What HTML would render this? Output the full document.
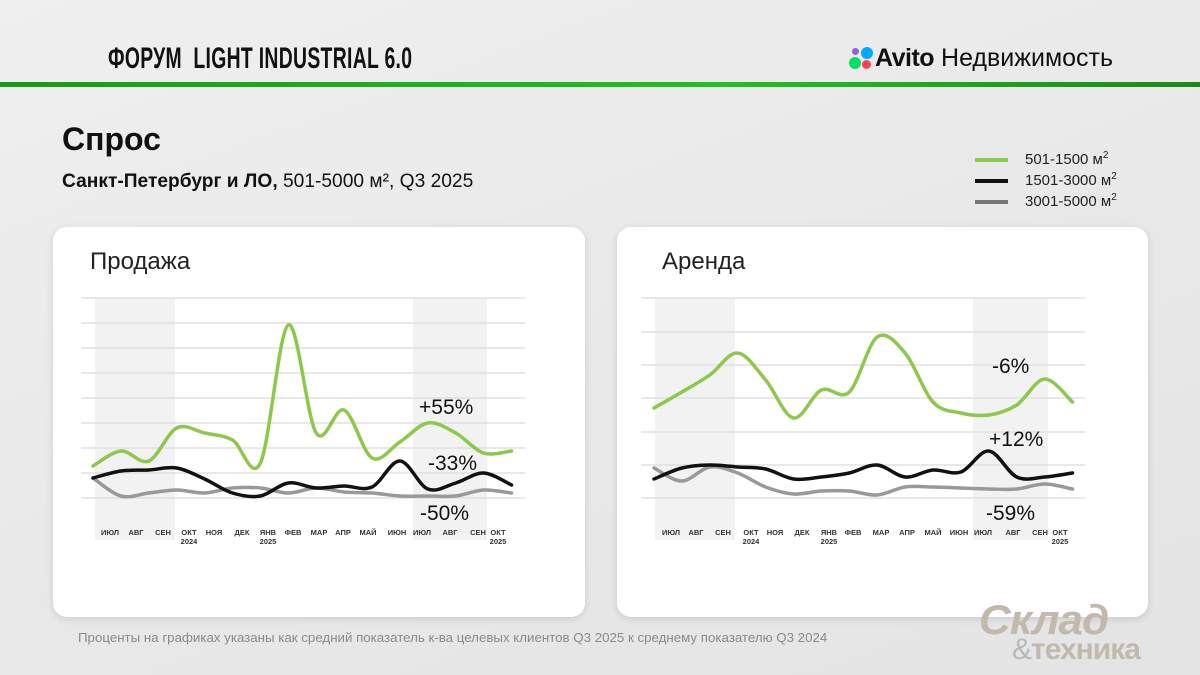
<!DOCTYPE html>
<html><head><meta charset="utf-8">
<style>
*{margin:0;padding:0;box-sizing:border-box}
body{width:1200px;height:675px;overflow:hidden;background:linear-gradient(160deg,#efefef 0%,#e9e9e9 50%,#e4e4e4 100%);font-family:"Liberation Sans",sans-serif;position:relative}
.abs{position:absolute;white-space:nowrap}
.card{position:absolute;background:#fff;border-radius:14px;box-shadow:0 2px 8px rgba(0,0,0,0.12)}
</style></head><body>
<div class="abs" style="left:108px;top:42px;font-size:30px;font-weight:bold;color:#111;transform:scaleX(0.645);transform-origin:left top;letter-spacing:0.5px">ФОРУМ&nbsp; LIGHT INDUSTRIAL 6.0</div>
<div class="abs" style="left:849px;top:47px;width:26px;height:26px">
 <div style="position:absolute;left:3px;top:1px;width:7px;height:7px;border-radius:50%;background:#965eeb"></div>
 <div style="position:absolute;left:12px;top:0;width:12px;height:12px;border-radius:50%;background:#0af"></div>
 <div style="position:absolute;left:0;top:10px;width:12px;height:12px;border-radius:50%;background:#04e061"></div>
 <div style="position:absolute;left:13px;top:13px;width:9px;height:9px;border-radius:50%;background:#ff4053"></div>
</div>
<div class="abs" style="left:875px;top:44px;font-size:25px;color:#111"><b style="letter-spacing:-0.5px">Avito</b> Недвижимость</div>
<div class="abs" style="left:0;top:82px;width:1200px;height:5px;background:linear-gradient(90deg,#1a9a1a,#22c022 60%,#1a8a1a)"></div>
<div class="abs" style="left:62px;top:121px;font-size:32px;font-weight:bold;color:#111">Спрос</div>
<div class="abs" style="left:62px;top:171px;font-size:19.2px;color:#111"><b>Санкт-Петербург и ЛО,</b> 501-5000 м², Q3 2025</div>
<div class="abs" style="left:975px;top:158px;width:33px;height:4px;background:#8cc84b"></div>
<div class="abs" style="left:975px;top:179px;width:33px;height:4px;background:#111"></div>
<div class="abs" style="left:975px;top:200px;width:33px;height:4px;background:#777"></div>
<div class="abs" style="left:1025px;top:150px;font-size:15px;color:#222">501-1500 м<sup style="font-size:10px">2</sup></div>
<div class="abs" style="left:1025px;top:171px;font-size:15px;color:#222">1501-3000 м<sup style="font-size:10px">2</sup></div>
<div class="abs" style="left:1025px;top:192px;font-size:15px;color:#222">3001-5000 м<sup style="font-size:10px">2</sup></div>
<div class="card" style="left:53px;top:227px;width:532px;height:390px"></div>
<div class="card" style="left:617px;top:227px;width:531px;height:390px"></div>
<div class="abs" style="left:90px;top:248px;font-size:24px;color:#222">Продажа</div>
<div class="abs" style="left:662px;top:248px;font-size:24px;color:#222">Аренда</div>
<svg class="abs" style="left:0;top:0" width="1200" height="675" id="s"></svg>
<div class="abs" style="left:78px;top:630px;font-size:13.3px;color:#8a8a8a">Проценты на графиках указаны как средний показатель к-ва целевых клиентов Q3 2025 к среднему показателю Q3 2024</div>
<div class="abs" style="left:982px;top:596px;font-size:42px;font-weight:900;color:#c2b9ad;font-style:italic;letter-spacing:-1px;transform:scaleX(1.05)">Склад</div>
<div class="abs" style="left:1012px;top:633px;font-size:30px;font-weight:900;color:#c2b9ad;letter-spacing:-1px"><span style="color:#b8b8b8;font-weight:normal">&amp;</span>техника</div>
<script>
var NS="http://www.w3.org/2000/svg",s=document.getElementById('s');
function el(t,a,txt){var e=document.createElementNS(NS,t);for(var k in a)e.setAttribute(k,a[k]);if(txt)e.textContent=txt;s.appendChild(e);return e;}
function path(xs,ys){var p=[];for(var i=0;i<ys.length;i++)p.push([xs+i*27.9,ys[i]]);var d="M"+p[0][0]+","+p[0][1];
for(var i=0;i<p.length-1;i++){var p0=p[i-1]||p[i],p1=p[i],p2=p[i+1],p3=p[i+2]||p2;
d+=" C"+(p1[0]+(p2[0]-p0[0])/6)+","+(p1[1]+(p2[1]-p0[1])/6)+" "+(p2[0]-(p3[0]-p1[0])/6)+","+(p2[1]-(p3[1]-p1[1])/6)+" "+p2[0]+","+p2[1];}return d;}
var months=["ИЮЛ","АВГ","СЕН","ОКТ","НОЯ","ДЕК","ЯНВ","ФЕВ","МАР","АПР","МАЙ","ИЮН","ИЮЛ","АВГ","СЕН","ОКТ"];
function chart(c){
 c.bands.forEach(function(b){el('rect',{x:b[0],y:298,width:b[1]-b[0],height:242,fill:'#f2f2f2'})});
 c.grid.forEach(function(y){el('line',{x1:c.gx[0],x2:c.gx[1],y1:y,y2:y,stroke:'#e0e0e0','stroke-width':1.5})});
 [[c.gray,'#999'],[c.black,'#111'],[c.green,'#8cc84b']].forEach(function(q){el('path',{d:path(c.x0,q[0]),fill:'none',stroke:q[1],'stroke-width':3.5,'stroke-linecap':'round'})});
 months.forEach(function(m,i){el('text',{x:c.mx[i],y:535,'font-size':7.5,'font-weight':'bold','text-anchor':'middle',fill:'#333','font-family':'Liberation Sans'},m)});
 [[3,'2024'],[6,'2025'],[15,'2025']].forEach(function(q){el('text',{x:c.mx[q[0]],y:544,'font-size':7.5,'font-weight':'bold','text-anchor':'middle',fill:'#333','font-family':'Liberation Sans'},q[1])});
 c.labels.forEach(function(l){el('text',{x:l[0],y:l[1],'font-size':21,fill:'#111','font-family':'Liberation Sans'},l[2])});
}
chart({bands:[[95,175],[413,487]],grid:[298,323,348,373,398,423,448,473,498],gx:[81,525],x0:93,
mx:[110,136,163,189,214,242,268,293,319,343,368,397,422,450,478,498],
green:[466,451,461,428,433,440,463,325,433,410,458,442,423,433,453,451],
black:[478,471,470,468,479,493,496,483,488,486,487,461,489,483,473,485],
gray:[478,496,493,490,493,488,488,493,488,492,493,496,496,496,490,493],
labels:[[419,414,'+55%'],[428,470,'-33%'],[420,520,'-50%']]});
chart({bands:[[655,735],[973,1048]],grid:[298,332,365,398,432,465,498],gx:[641,1085],x0:654,
mx:[671,696,723,751,775,802,829,853,881,907,933,959,983,1013,1040,1060],
green:[408,392,375,353,380,418,390,392,337,353,402,413,415,405,379,402],
black:[479,468,465,467,469,479,477,473,465,477,470,472,451,477,477,473],
gray:[468,481,467,473,487,494,491,491,495,487,487,488,489,489,484,489],
labels:[[992,373,'-6%'],[989,446,'+12%'],[986,520,'-59%']]});
</script>
</body></html>
